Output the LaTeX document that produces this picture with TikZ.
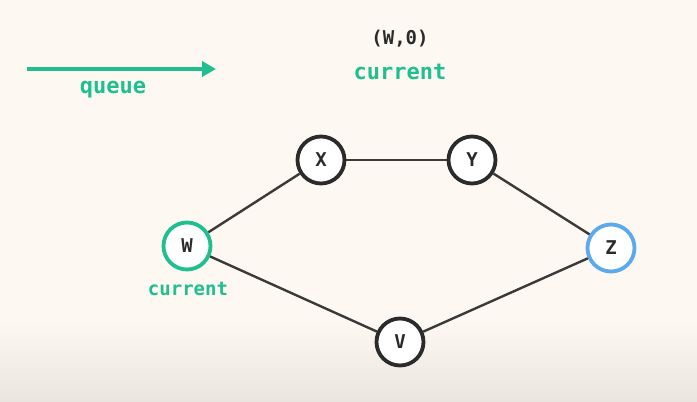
\documentclass[tikz,border=0pt]{standalone}
\usepackage{fontspec}
\setmonofont{DejaVu Sans Mono}
\usetikzlibrary{arrows.meta}
\definecolor{bgcream}{HTML}{FDF8F1}
\definecolor{bgbottom}{HTML}{EBE5DF}
\definecolor{qgreen}{HTML}{1FBF8F}
\definecolor{zblue}{HTML}{5CA9EE}
\definecolor{edgegray}{HTML}{3A3A38}
\definecolor{inkdark}{HTML}{2B2B2B}

\begin{document}
\begin{tikzpicture}[x=1pt, y=-1pt, semithick]
                \tikzstyle{vertex}=[circle, draw=inkdark, line width=3.8pt, fill=white, minimum size=47pt, inner sep=0pt, text=inkdark, font=\ttfamily\bfseries\fontsize{19}{22}\selectfont]
                \tikzstyle{link}=[draw=edgegray, line width=2.4pt]
                \tikzstyle{tag}=[font=\ttfamily\bfseries\fontsize{22}{25}\selectfont, text=qgreen]

                % Background
                \useasboundingbox (0,0) rectangle (697,402);
                \fill[bgcream] (0,0) rectangle (697,402);
                \shade[top color=bgcream, bottom color=bgbottom] (0,320) rectangle (697,402);

                % Define the vertices
                \node[vertex, draw=qgreen] (w) at (187,246) {W};
                \node[vertex] (x) at (321,160) {X};
                \node[vertex] (y) at (472,160) {Y};
                \node[vertex, draw=zblue] (z) at (611,248) {Z};
                \node[vertex] (v) at (400,342) {V};

                % Connect the vertices
                \draw[link] (w) -- (x);
                \draw[link] (x) -- (y);
                \draw[link] (y) -- (z);
                \draw[link] (w) -- (v);
                \draw[link] (v) -- (z);

                % Labels
                \node[tag, font=\ttfamily\bfseries\fontsize{19}{22}\selectfont] (wcur) at (188,289) {current};
                \coordinate (qstart) at (27,69);
                \coordinate (qend) at (216,69);
                \draw[qgreen, line width=4pt, -{Triangle[length=14pt, width=15pt]}] (qstart) -- (qend);
                \node[tag] (queue) at (113,90) {queue};
                \node[font=\ttfamily\bfseries\fontsize{19}{22}\selectfont, text=inkdark] (pair) at (400,39) {(W,0)};
                \node[tag] (cur) at (400,72) {current};

            \end{tikzpicture}
\end{document}
